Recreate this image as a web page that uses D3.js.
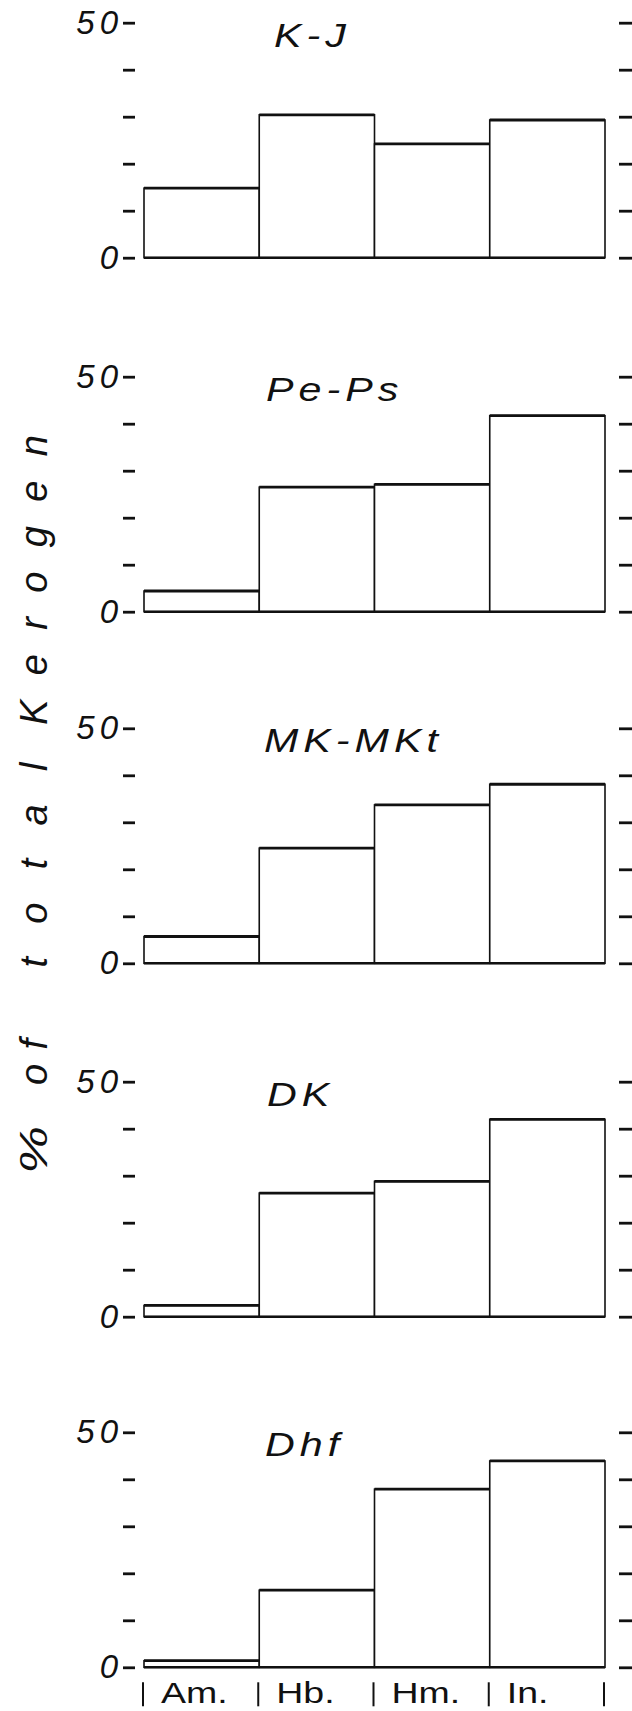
<!DOCTYPE html>
<html>
<head>
<meta charset="utf-8">
<script src="https://cdn.jsdelivr.net/npm/d3@7"></script>
<style>
  html, body { margin: 0; padding: 0; background: #fff; }
  svg { display: block; }
  text { fill: #111; font-family: "Liberation Sans", "DejaVu Sans", sans-serif; }
</style>
</head>
<body>
<script>
// ---- data ----
const categories = ["Am.", "Hb.", "Hm.", "In."];
const panelTitles = ["K-J", "Pe-Ps", "MK-MKt", "DK", "Dhf"];
const kjValues    = [14.8, 30.4, 24.2, 29.3];
const pepsValues  = [4.4, 26.5, 27.1, 41.7];
const mkmktValues = [5.7, 24.5, 33.7, 38.1];
const dkValues    = [2.4, 26.3, 28.8, 42.0];
const dhfValues   = [1.4, 16.4, 37.9, 43.9];
const yTicks = [0, 10, 20, 30, 40, 50];
const yTickLabels = {0: "0", 50: "50"};
const yAxisTitleWords = ["%", "of", "total", "Kerogen"];

const seriesValues = [kjValues, pepsValues, mkmktValues, dkValues, dhfValues];

// ---- layout ----
const W = 632, H = 1711;
const plotLeft = 144, plotRight = 605;
const panelTops = [22.7, 376.7, 728.3, 1081.7, 1432.3];
const panelH = 235;
const leftTickX = 135, rightTickX = 619;
const titleX = [274, 266, 264, 267, 265];
// y-title word placement (center along axis, length)
const titleWordPos = [[1150, 48], [1062, 46], [865, 205], [580, 290]];

const svg = d3.select("body").append("svg")
  .attr("width", W).attr("height", H);

const x = d3.scaleBand().domain(categories).range([plotLeft, plotRight]).padding(0);

seriesValues.forEach((vals, i) => {
  const top = panelTops[i];
  const y = d3.scaleLinear().domain([0, 50]).range([top + panelH, top]);
  const g = svg.append("g");

  const data = categories.map((c, j) => ({c, v: vals[j]}));
  g.selectAll("rect.bar").data(data).join("rect")
    .attr("class", "bar")
    .attr("x", d => x(d.c))
    .attr("width", x.bandwidth())
    .attr("y", d => y(d.v))
    .attr("height", d => y(0) - y(d.v))
    .attr("fill", "#fff")
    .attr("stroke", "#111")
    .attr("stroke-width", 1.6);
  g.selectAll("line.top").data(data).join("line")
    .attr("class", "top")
    .attr("x1", d => x(d.c)).attr("x2", d => x(d.c) + x.bandwidth())
    .attr("y1", d => y(d.v)).attr("y2", d => y(d.v))
    .attr("stroke", "#111").attr("stroke-width", 2.8);
  g.append("line")
    .attr("x1", plotLeft).attr("x2", plotRight)
    .attr("y1", y(0)).attr("y2", y(0))
    .attr("stroke", "#111").attr("stroke-width", 2.4);

  // left axis
  const la = g.append("g").attr("transform", `translate(${leftTickX},0)`)
    .call(d3.axisLeft(y).tickValues(yTicks).tickSize(12).tickPadding(0)
      .tickFormat(d => yTickLabels[d] || ""));
  la.select(".domain").remove();
  la.selectAll(".tick line").attr("stroke", "#111").attr("stroke-width", 2.8);
  la.selectAll(".tick text")
    .attr("font-size", 33).attr("font-style", "italic")
    .attr("letter-spacing", 5)
    .attr("font-family", "'Liberation Sans', sans-serif")
    .attr("fill", "#111");

  // right axis (ticks only)
  const ra = g.append("g").attr("transform", `translate(${rightTickX},0)`)
    .call(d3.axisRight(y).tickValues(yTicks).tickSize(13).tickFormat(""));
  ra.select(".domain").remove();
  ra.selectAll(".tick line").attr("stroke", "#111").attr("stroke-width", 2.8);

  // title
  g.append("text")
    .attr("transform", `translate(${titleX[i]},${top + 24}) scale(1.25,1)`)
    .attr("font-size", 33).attr("font-style", "italic")
    .attr("letter-spacing", 4)
    .text(panelTitles[i]);

  if (i === seriesValues.length - 1) {
    const base = y(0);
    const bounds = categories.map(c => x(c)).concat([x(categories[categories.length - 1]) + x.bandwidth()]);
    g.selectAll("line.sep").data(bounds).join("line")
      .attr("class", "sep")
      .attr("x1", d => d - 1).attr("x2", d => d - 1)
      .attr("y1", base + 15).attr("y2", base + 39)
      .attr("stroke", "#111").attr("stroke-width", 2);
    g.selectAll("text.cat").data(categories).join("text")
      .attr("class", "cat")
      .attr("transform", d => `translate(${x(d) + 17},${base + 36}) scale(1.25,1)`)
      .attr("text-anchor", "start")
      .attr("font-size", 30)
      .text(d => d);
  }
});

// y axis title (one word per text, spaced like the lettering)
svg.append("g").selectAll("text").data(yAxisTitleWords).join("text")
  .attr("transform", (d, k) => `translate(47,${titleWordPos[k][0]}) rotate(-90)`)
  .attr("text-anchor", "middle")
  .attr("font-size", 38)
  .attr("font-style", "italic")
  .attr("textLength", (d, k) => titleWordPos[k][1])
  .attr("lengthAdjust", (d, k) => d.length > 1 ? "spacing" : "spacingAndGlyphs")
  .text(d => d);
</script>
</body>
</html>
